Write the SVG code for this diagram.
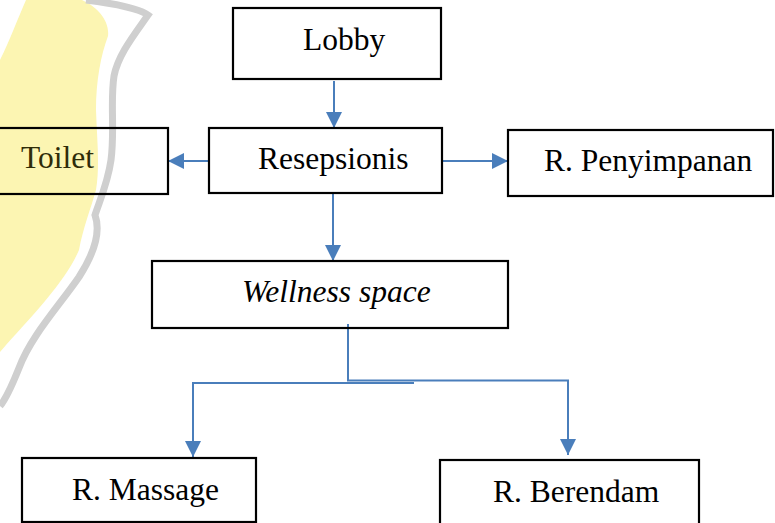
<svg xmlns="http://www.w3.org/2000/svg" width="775" height="523" viewBox="0 0 775 523">
  <style>
    .box { fill: none; stroke: #000; stroke-width: 2.2; }
    .lbl { font-family: "Liberation Serif", "Times New Roman", serif; font-size: 31.5px; fill: #000; }
    .conn { fill: none; stroke: #4a7ebb; stroke-width: 2; }
  </style>
  <defs>
    <marker id="arr" markerUnits="userSpaceOnUse" markerWidth="17" markerHeight="17" refX="16" refY="8" orient="auto">
      <path d="M0,0 L16,8 L0,16 Z" fill="#4a7ebb"/>
    </marker>
  </defs>
  <rect x="0" y="0" width="775" height="523" fill="#fff"/>

  <!-- faded watermark -->
  <g id="watermark">
    <path d="M26,0 L82,0 C96,6 110,20 108,36 C101,55 96,80 96,110 C97,140 100,165 96,190 C91,208 83,228 79,250 C66,280 36,312 6,345 L0,352 L0,60 C10,40 18,18 26,0 Z" fill="#fcf5b2"/>
    <path d="M86,0 C110,3 138,8 148,15 C134,35 118,55 114,76 C110,102 115,130 111,160 C108,182 100,200 95,215 C101,232 95,252 79,277 C59,306 31,336 19,368 C11,388 5,400 0,406" fill="none" stroke="#cfcfcf" stroke-width="7"/>
  </g>

  <g id="connectors">
    <line class="conn" x1="334" y1="81" x2="334" y2="128" marker-end="url(#arr)"/>
    <line class="conn" x1="209" y1="161" x2="168" y2="161" marker-end="url(#arr)"/>
    <line class="conn" x1="442" y1="161" x2="508" y2="161" marker-end="url(#arr)"/>
    <line class="conn" x1="333" y1="193" x2="333" y2="261" marker-end="url(#arr)"/>
    <polyline class="conn" points="348,324 348,380.5 568,380.5 568,455" marker-end="url(#arr)"/>
    <polyline class="conn" points="414,383 193,383 193,457" marker-end="url(#arr)"/>
  </g>

  <g id="node-lobby">
    <rect class="box" x="233" y="8" width="208" height="71"/>
    <text class="lbl" x="303" y="50">Lobby</text>
  </g>
  <g id="node-resepsionis">
    <rect class="box" x="209" y="128" width="233" height="65"/>
    <text class="lbl" x="258" y="169">Resepsionis</text>
  </g>
  <g id="node-toilet">
    <rect class="box" x="-5" y="128" width="173" height="66"/>
    <text class="lbl" x="21" y="168" style="fill:#2f2c08">Toilet</text>
  </g>
  <g id="node-penyimpanan">
    <rect class="box" x="508" y="130" width="265" height="66"/>
    <text class="lbl" x="544" y="171">R. Penyimpanan</text>
  </g>
  <g id="node-wellness">
    <rect class="box" x="152" y="261" width="356" height="67"/>
    <text class="lbl" x="242" y="302" font-style="italic">Wellness space</text>
  </g>
  <g id="node-massage">
    <rect class="box" x="22" y="458" width="234" height="64"/>
    <text class="lbl" x="72" y="500">R. Massage</text>
  </g>
  <g id="node-berendam">
    <rect class="box" x="440" y="460" width="259" height="70"/>
    <text class="lbl" x="493" y="502">R. Berendam</text>
  </g>
</svg>
